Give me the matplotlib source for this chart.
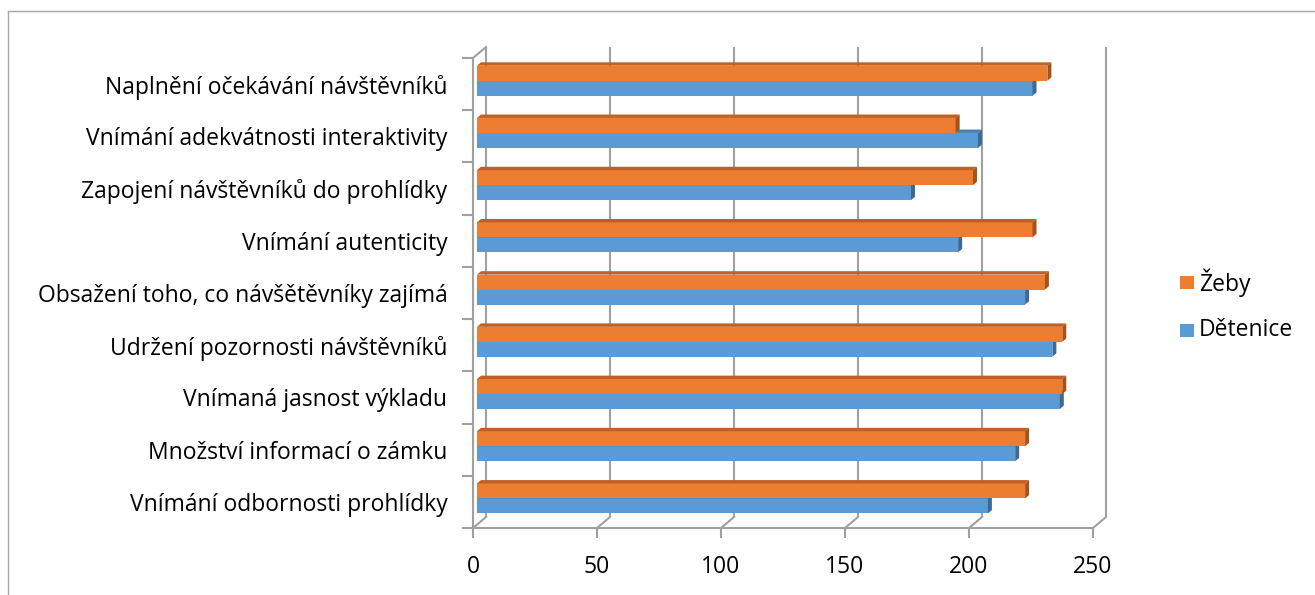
import matplotlib.pyplot as plt
import numpy as np
from matplotlib.patches import Polygon, Rectangle
from matplotlib.lines import Line2D

# categories listed top to bottom, as in the picture
categories = [
    'Naplnění očekávání návštěvníků',
    'Vnímání adekvátnosti interaktivity',
    'Zapojení návštěvníků do prohlídky',
    'Vnímání autenticity',
    'Obsažení toho, co návšětěvníky zajímá',
    'Udržení pozornosti návštěvníků',
    'Vnímaná jasnost výkladu',
    'Množství informací o zámku',
    'Vnímání odbornosti prohlídky',
]
zeby = [230, 193, 200, 224, 229, 236, 236, 221, 221]
detenice = [224, 202, 175, 194, 221, 232, 235, 217, 206]
series_names = ['Žeby', 'Dětenice']
x_ticks = [0, 50, 100, 150, 200, 250]

W, H = 1315, 595
FS = 16.5
AXIS_C = '#a0a0a0'
ORANGE = ('#ED7D31', '#BF6126', '#A5531C')   # front, top, side
BLUE = ('#5B9BD5', '#4B80B3', '#3D6A95')

plt.rcParams['font.family'] = ['Open Sans', 'DejaVu Sans']

fig = plt.figure(figsize=(W / 100, H / 100), dpi=100)
fig.patch.set_facecolor('white')

# front plane of the 3d box, in pixels
ax_l, ax_r, ax_t, ax_b = 473, 1093, 58, 528
ax = fig.add_axes([ax_l / W, 1 - ax_b / H, (ax_r - ax_l) / W, (ax_b - ax_t) / H])
n = len(categories)
xmax = x_ticks[-1]
ax.set_xlim(0, xmax)
ax.set_ylim(-0.5, n - 0.5)

px_x = (ax_r - ax_l) / xmax
px_y = (ax_b - ax_t) / n


def depth(dx, dy):
    # pixel offset -> data offset
    return dx / px_x, dy / px_y


wx, wy = depth(13, 11)      # depth of the walls
fx, fy = depth(4, 3.4)      # bar front face behind the front plane
bx, by = depth(4, 3.4)      # bar depth
bar_h = 15 / px_y

line_kw = dict(color=AXIS_C, lw=1.5, clip_on=False)

# back wall gridlines
ax.vlines(np.array(x_ticks) + wx, -0.5 + wy, n - 0.5 + wy, zorder=1, **line_kw)
# floor lines
for v in x_ticks:
    ax.plot([v, v + wx], [-0.5, -0.5 + wy], zorder=1, **line_kw)
# left wall top edge
ax.plot([0, wx], [n - 0.5, n - 0.5 + wy], zorder=1, **line_kw)

ypos = np.arange(n)[::-1]


def draw_bars(values, colors, below, z):
    front, top_c, side_c = colors
    bottoms = ypos + fy - (bar_h if below else 0)
    bars = ax.barh(bottoms, values, left=fx, height=bar_h, align='edge',
                   color=front, zorder=z, clip_on=False)
    for yb, v in zip(bottoms, values):
        yt = yb + bar_h
        xe = fx + v
        ax.add_patch(Polygon([(fx, yt), (xe, yt), (xe + bx, yt + by), (fx + bx, yt + by)],
                             closed=True, facecolor=top_c, edgecolor='none', zorder=z, clip_on=False))
        ax.add_patch(Polygon([(xe, yb), (xe + bx, yb + by), (xe + bx, yt + by), (xe, yt)],
                             closed=True, facecolor=side_c, edgecolor='none', zorder=z, clip_on=False))
    return bars


draw_bars(detenice, BLUE, True, 3)
draw_bars(zeby, ORANGE, False, 4)

for s in ['top', 'right']:
    ax.spines[s].set_visible(False)
for s in ['left', 'bottom']:
    ax.spines[s].set_color(AXIS_C)
    ax.spines[s].set_linewidth(1.5)

ax.set_xticks(x_ticks)
ax.set_xticklabels([str(v) for v in x_ticks])
ax.tick_params(axis='x', length=7.2, width=1.5, color=AXIS_C, pad=12, labelsize=FS)
ax.set_yticks(ypos)
ax.set_yticklabels(categories)
ax.set_yticks(np.arange(n + 1) - 0.5, minor=True)
ax.tick_params(axis='y', which='major', length=0, pad=18.5, labelsize=FS)
ax.tick_params(axis='y', which='minor', length=7.9, width=1.5, color=AXIS_C)

# chart area border (cut off at right and bottom)
fig.add_artist(Line2D([8 / W, 1], [1 - 11 / H, 1 - 11 / H], transform=fig.transFigure, color='#a6a6a6', lw=1))
fig.add_artist(Line2D([8 / W, 8 / W], [0, 1 - 11 / H], transform=fig.transFigure, color='#a6a6a6', lw=1))

# legend
for name, colors, yc in [(series_names[0], ORANGE, 282.5), (series_names[1], BLUE, 330.5)]:
    fig.add_artist(Rectangle((1180 / W, 1 - (yc + 6.5) / H), 14 / W, 13 / H,
                             transform=fig.transFigure, facecolor=colors[0], edgecolor='none'))
    fig.text(1199 / W, 1 - yc / H, name, va='center', ha='left', fontsize=FS)

fig.savefig('out.png', dpi=100)
